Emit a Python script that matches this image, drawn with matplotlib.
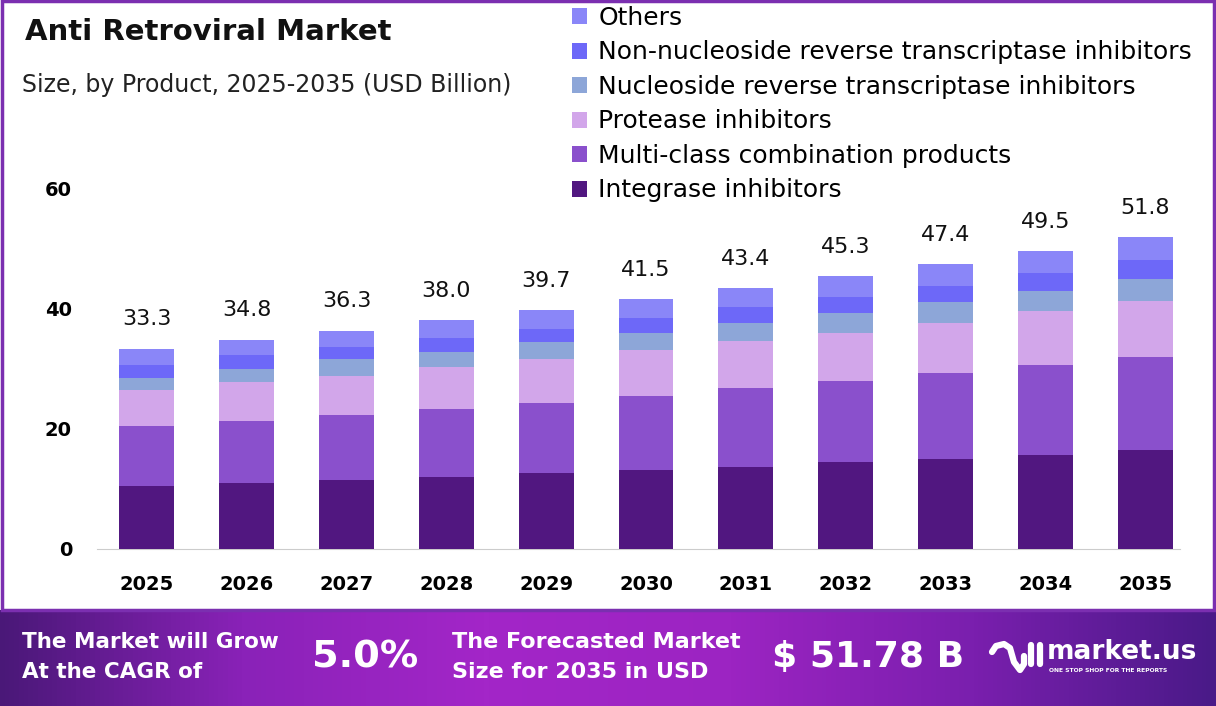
import numpy as np
import matplotlib
matplotlib.use("Agg")
import matplotlib.pyplot as plt
from matplotlib.colors import LinearSegmentedColormap
from matplotlib.patches import Rectangle

plt.rcParams['font.family'] = ['DejaVu Sans']

years = ['2025', '2026', '2027', '2028', '2029', '2030',
         '2031', '2032', '2033', '2034', '2035']
integrase = [10.5, 10.9, 11.5, 12.0, 12.6, 13.1, 13.7, 14.4, 15.0, 15.7, 16.4]
multi_class = [9.9, 10.4, 10.8, 11.3, 11.7, 12.4, 13.0, 13.5, 14.2, 14.8, 15.5]
protease = [6.0, 6.4, 6.5, 6.9, 7.3, 7.6, 7.9, 8.0, 8.4, 9.1, 9.3]
nrti = [2.1, 2.3, 2.7, 2.6, 2.8, 2.8, 2.9, 3.4, 3.5, 3.2, 3.6]
nnrti = [2.1, 2.2, 2.1, 2.3, 2.2, 2.5, 2.7, 2.6, 2.6, 3.1, 3.2]
others = [2.7, 2.6, 2.7, 2.9, 3.1, 3.1, 3.2, 3.4, 3.7, 3.6, 3.8]
totals = [33.3, 34.8, 36.3, 38.0, 39.7, 41.5, 43.4, 45.3, 47.4, 49.5, 51.8]

series = [
    ('Integrase inhibitors', integrase, '#511780'),
    ('Multi-class combination products', multi_class, '#8a50cc'),
    ('Protease inhibitors', protease, '#d2a6ea'),
    ('Nucleoside reverse transcriptase inhibitors', nrti, '#8da6d8'),
    ('Non-nucleoside reverse transcriptase inhibitors', nnrti, '#6d68f8'),
    ('Others', others, '#8a86f8'),
]

fig = plt.figure(figsize=(12.16, 7.06), dpi=100)
ax = fig.add_axes([97 / 1216, 1 - 549 / 706, (1180 - 97) / 1216, (549 - 188) / 706])

x = np.arange(len(years))
bottom = np.zeros(len(years))
handles = []
for name, vals, col in series:
    b = ax.bar(x, vals, 0.55, bottom=bottom, color=col, label=name, zorder=3)
    handles.append(b)
    bottom += np.array(vals)

for xi, t in zip(x, totals):
    ax.text(xi, t + 3.2, f'{t:.1f}', ha='center', va='bottom', fontsize=16,
            color='#111111')

ax.set_xlim(-0.5, 10.35)
ax.set_ylim(0, 60)
ax.set_yticks([0, 20, 40, 60])
ax.set_xticks(x)
ax.set_xticklabels(years)
for s in ['top', 'right', 'left']:
    ax.spines[s].set_visible(False)
ax.spines['bottom'].set_color('#cccccc')
ax.tick_params(axis='both', length=0, labelsize=14)
ax.tick_params(axis='y', pad=18)
ax.tick_params(axis='x', pad=19)
for lab in ax.get_xticklabels() + ax.get_yticklabels():
    lab.set_fontweight('bold')

fig.text(25 / 1216, 1 - 32 / 706, 'Anti Retroviral Market', fontsize=21,
         fontweight='bold', va='center', ha='left', color='#111111')
fig.text(22 / 1216, 1 - 85 / 706, 'Size, by Product, 2025-2035 (USD Billion)',
         fontsize=17, va='center', ha='left', color='#222222')

leg = fig.legend(handles[::-1], [s[0] for s in series][::-1],
                 loc='upper left', bbox_to_anchor=(562 / 1216, 1 + 4 / 706),
                 frameon=False, fontsize=18, handlelength=0.6, handleheight=0.6,
                 handletextpad=0.45, labelspacing=0.42, borderaxespad=0)

# purple frame round the chart area
fig.patches.append(Rectangle((0.0015, 1 - 610 / 706), 0.997, 610 / 706 - 0.002,
                             transform=fig.transFigure, fill=False,
                             edgecolor='#7b2fb0', linewidth=2.5))

# footer band
fax = fig.add_axes([0, 0, 1, 96 / 706])
cmap = LinearSegmentedColormap.from_list(
    'band', ['#4a1878', '#8a22b8', '#a326c8', '#9c24c2', '#7a1fae', '#4a1a88'])
fax.imshow(np.linspace(0, 1, 256)[None, :], aspect='auto', cmap=cmap,
           extent=[0, 1, 0, 1])
fax.set_xlim(0, 1)
fax.set_ylim(0, 1)
fax.axis('off')

def fy(py):
    return (706 - py) / 96

fax.text(22 / 1216, fy(642), 'The Market will Grow', color='white', fontsize=15.5,
         fontweight='bold', va='center')
fax.text(22 / 1216, fy(672), 'At the CAGR of', color='white', fontsize=15.5,
         fontweight='bold', va='center')
fax.text(312 / 1216, fy(657), '5.0%', color='white', fontsize=27.5,
         fontweight='bold', va='center')
fax.text(452 / 1216, fy(642), 'The Forecasted Market', color='white', fontsize=16,
         fontweight='bold', va='center')
fax.text(452 / 1216, fy(672), 'Size for 2035 in USD', color='white', fontsize=16,
         fontweight='bold', va='center')
fax.text(772 / 1216, fy(657), '$ 51.78 B', color='white', fontsize=26,
         fontweight='bold', va='center')

# logo
lx = [992, 996, 1004, 1010, 1014, 1020, 1024, 1024]
ly = [652, 646, 644, 648, 662, 670, 664, 656]
fax.plot(np.array(lx) / 1216, [fy(v) for v in ly], color='white', lw=4.5,
         solid_capstyle='round', solid_joinstyle='round')
fax.plot([1031 / 1216, 1031 / 1216], [fy(645), fy(664)], color='white', lw=4.5,
         solid_capstyle='round')
fax.plot([1040 / 1216, 1040 / 1216], [fy(645), fy(664)], color='white', lw=4.5,
         solid_capstyle='round')
fax.text(1047 / 1216, fy(652), 'market.us', color='white', fontsize=19,
         fontweight='bold', va='center')
fax.text(1049 / 1216, fy(670), 'ONE STOP SHOP FOR THE REPORTS', color='white',
         fontsize=4.3, fontweight='bold', va='center')

fig.savefig('out.png', dpi=100)
